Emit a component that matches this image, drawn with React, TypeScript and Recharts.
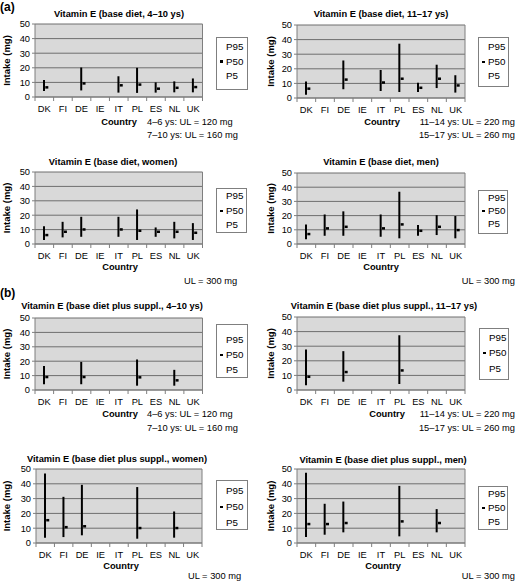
import { Bar, CartesianGrid, ComposedChart, Scatter, XAxis, YAxis } from "recharts"

const FONT = '"Liberation Sans", Arial, Helvetica, sans-serif'

const countries = ["DK", "FI", "DE", "IE", "IT", "PL", "ES", "NL", "UK"]
const yTicks = [0, 10, 20, 30, 40, 50]

// (a) base diet
const base410P5 = [4.1, null, 4.5, null, 3.0, 2.8, 3.0, 3.2, 3.2]
const base410P50 = [6.6, null, 9.3, null, 8.0, 8.5, 5.7, 6.3, 6.8]
const base410P95 = [11.6, null, 20.2, null, 14.2, 20.0, 10.0, 10.7, 12.7]

const base1117P5 = [2.3, null, 6.0, null, 4.8, 4.1, 4.1, 6.8, 3.7]
const base1117P50 = [6.4, null, 12.6, null, 10.6, 13.2, 7.0, 13.2, 8.6]
const base1117P95 = [11.3, null, 25.7, null, 19.2, 37.2, 10.4, 22.8, 15.6]

const baseWomenP5 = [2.8, 4.6, 5.0, null, 5.0, 2.8, 5.0, 3.9, 2.8]
const baseWomenP50 = [6.2, 8.5, 10.1, null, 10.1, 9.2, 8.5, 8.5, 7.8]
const baseWomenP95 = [12.4, 15.4, 18.9, null, 18.9, 24.0, 11.5, 15.4, 14.5]

const baseMenP5 = [3.3, 5.8, 5.8, null, 5.1, 4.0, 5.8, 6.3, 4.0]
const baseMenP50 = [7.0, 11.0, 12.1, null, 11.0, 13.8, 9.3, 12.1, 9.8]
const baseMenP95 = [13.8, 20.8, 23.0, null, 20.8, 36.8, 13.3, 20.3, 19.7]

// (b) base diet plus supplements
const suppl410P5 = [4.0, null, 4.0, null, null, 3.0, null, 3.0, null]
const suppl410P50 = [9.0, null, 9.0, null, null, 8.8, null, 6.7, null]
const suppl410P95 = [16.7, null, 19.5, null, null, 21.2, null, 14.0, null]

const suppl1117P5 = [3.2, null, 5.7, null, null, 4.1, null, null, null]
const suppl1117P50 = [9.1, null, 12.3, null, null, 13.4, null, null, null]
const suppl1117P95 = [27.7, null, 26.6, null, null, 37.5, null, null, null]

const supplWomenP5 = [3.6, 4.0, 5.2, null, null, 2.9, null, 3.6, null]
const supplWomenP50 = [15.4, 10.7, 11.3, null, null, 10.1, null, 10.1, null]
const supplWomenP95 = [47.0, 31.2, 39.3, null, null, 37.8, null, 21.3, null]

const supplMenP5 = [4.0, 5.6, 7.2, null, null, 4.5, null, 7.2, null]
const supplMenP50 = [12.8, 12.8, 13.5, null, null, 14.6, null, 13.5, null]
const supplMenP95 = [47.5, 26.5, 28.0, null, null, 38.6, null, 22.9, null]

const titles = [
  "Vitamin E (base diet, 4–10 ys)",
  "Vitamin E (base diet, 11–17 ys)",
  "Vitamin E (base diet, women)",
  "Vitamin E (base diet, men)",
  "Vitamin E (base diet plus suppl., 4–10 ys)",
  "Vitamin E (base diet plus suppl., 11–17 ys)",
  "Vitamin E (base diet plus suppl., women)",
  "Vitamin E (base diet plus suppl., men)",
]

const ulKids = ["4–6 ys: UL = 120 mg", "7–10 ys: UL = 160 mg"]
const ulTeens = ["11–14 ys: UL = 220 mg", "15–17 ys: UL = 260 mg"]
const ulAdults = ["UL = 300 mg"]

const legendItems = ["P95", "P50", "P5"]

type Num = number | null

interface PanelCfg {
  title: string
  p5: Num[]
  p50: Num[]
  p95: Num[]
  ul: string[]
  plot: { x: number; y: number; w: number; h: number }
  titleX: number
  titleY: number
  countryX: number
  countryY: number
  ylabX: number
  legend: { x: number; y: number; w: number; h: number; rows: number[] }
  ulX: number
  ulY: number[]
  ulAnchor: "start" | "end"
}

const panels: PanelCfg[] = [
  {
    title: titles[0], p5: base410P5, p50: base410P50, p95: base410P95, ul: ulKids,
    plot: { x: 34.5, y: 24, w: 167.5, h: 73 }, titleX: 119, titleY: 15, countryX: 119, countryY: 123, ylabX: 6,
    legend: { x: 216, y: 37, w: 32, h: 53, rows: [47, 61.5, 76] }, ulX: 147, ulY: [123, 136], ulAnchor: "start",
  },
  {
    title: titles[1], p5: base1117P5, p50: base1117P50, p95: base1117P95, ul: ulTeens,
    plot: { x: 297, y: 25, w: 168, h: 73 }, titleX: 381, titleY: 15, countryX: 382, countryY: 123, ylabX: 270,
    legend: { x: 478, y: 37, w: 31, h: 50, rows: [47, 62, 76] }, ulX: 515, ulY: [123, 136], ulAnchor: "end",
  },
  {
    title: titles[2], p5: baseWomenP5, p50: baseWomenP50, p95: baseWomenP95, ul: ulAdults,
    plot: { x: 34.5, y: 172, w: 167.5, h: 72 }, titleX: 113, titleY: 163, countryX: 120, countryY: 268, ylabX: 6,
    legend: { x: 216, y: 188, w: 31, h: 45, rows: [196, 211, 225] }, ulX: 184, ulY: [282], ulAnchor: "start",
  },
  {
    title: titles[3], p5: baseMenP5, p50: baseMenP50, p95: baseMenP95, ul: ulAdults,
    plot: { x: 297, y: 173, w: 168, h: 71 }, titleX: 381, titleY: 163, countryX: 381, countryY: 268, ylabX: 270,
    legend: { x: 478, y: 190, w: 30, h: 44, rows: [198, 211, 224] }, ulX: 515, ulY: [282], ulAnchor: "end",
  },
  {
    title: titles[4], p5: suppl410P5, p50: suppl410P50, p95: suppl410P95, ul: ulKids,
    plot: { x: 34.5, y: 318, w: 167.5, h: 72 }, titleX: 112, titleY: 307, countryX: 120, countryY: 415, ylabX: 6,
    legend: { x: 216, y: 324, w: 32, h: 54, rows: [340, 355, 370] }, ulX: 147, ulY: [415, 429], ulAnchor: "start",
  },
  {
    title: titles[5], p5: suppl1117P5, p50: suppl1117P50, p95: suppl1117P95, ul: ulTeens,
    plot: { x: 297, y: 317, w: 168, h: 73 }, titleX: 384, titleY: 307, countryX: 387, countryY: 415, ylabX: 270,
    legend: { x: 479, y: 328, w: 30, h: 52, rows: [338, 353, 369] }, ulX: 515, ulY: [415, 429], ulAnchor: "end",
  },
  {
    title: titles[6], p5: supplWomenP5, p50: supplWomenP50, p95: supplWomenP95, ul: ulAdults,
    plot: { x: 36, y: 469, w: 166, h: 74 }, titleX: 117, titleY: 460, countryX: 121, countryY: 567, ylabX: 6,
    legend: { x: 216, y: 480, w: 32, h: 50, rows: [491, 507, 523] }, ulX: 188, ulY: [577], ulAnchor: "start",
  },
  {
    title: titles[7], p5: supplMenP5, p50: supplMenP50, p95: supplMenP95, ul: ulAdults,
    plot: { x: 297, y: 469, w: 168, h: 74 }, titleX: 383, titleY: 461, countryX: 383, countryY: 567, ylabX: 270,
    legend: { x: 478, y: 486, w: 30, h: 44, rows: [494, 508, 522] }, ulX: 515, ulY: [577], ulAnchor: "end",
  },
]

const AXIS = "#7f7f7f"

function CountryTick(props: any) {
  const { x, y, payload, band } = props
  const i = countries.indexOf(payload.value)
  const left = x - band / 2
  return (
    <g>
      <line x1={left} x2={left} y1={y} y2={y + 4} stroke={AXIS} />
      {i === countries.length - 1 && <line x1={x + band / 2} x2={x + band / 2} y1={y} y2={y + 4} stroke={AXIS} />}
      <text x={x} y={y + 12} textAnchor="middle" dominantBaseline="central" fontSize={9.3} fill="#000" fontFamily={FONT}>
        {payload.value}
      </text>
    </g>
  )
}

function MedianMark(props: any) {
  const { cx, cy, payload } = props
  if (payload == null || payload.p50 == null || !Number.isFinite(cx) || !Number.isFinite(cy)) return null
  return <rect x={cx + 1} y={cy - 1.25} width={3} height={2.5} fill="#000" />
}

function Txt({ x, y, children, bold, size = 9.3, anchor = "middle" }: any) {
  const tx = anchor === "middle" ? "-50%" : anchor === "end" ? "-100%" : "0"
  return (
    <div
      style={{
        position: "absolute",
        left: x,
        top: y,
        transform: `translate(${tx}, -50%)`,
        whiteSpace: "nowrap",
        fontSize: size,
        fontWeight: bold ? "bold" : "normal",
        lineHeight: 1,
      }}
    >
      {children}
    </div>
  )
}

function Panel({ cfg }: { cfg: PanelCfg }) {
  const data = countries.map((c, i) => ({
    name: c,
    range: cfg.p95[i] == null ? null : [cfg.p5[i], cfg.p95[i]],
    p50: cfg.p50[i],
  }))
  const axisW = 35
  const top = 6
  const xAxisH = 22
  const band = cfg.plot.w / countries.length
  const left = cfg.plot.x - axisW
  const chartTop = cfg.plot.y - top
  const width = axisW + cfg.plot.w + 3
  const height = top + cfg.plot.h + xAxisH
  const lg = cfg.legend
  const labX = cfg.ylabX - left
  const labY = top + cfg.plot.h / 2

  return (
    <>
      <Txt x={cfg.titleX} y={cfg.titleY} bold>{cfg.title}</Txt>
      <div style={{ position: "absolute", left, top: chartTop }}>
        <ComposedChart width={width} height={height} data={data} margin={{ top, right: 2, bottom: 0, left: 0 }}>
          <CartesianGrid vertical={false} fill="#d9d9d9" fillOpacity={1} stroke="#6e6e6e" />
          <XAxis
            dataKey="name"
            height={xAxisH}
            interval={0}
            tickLine={false}
            tickSize={0}
            tickMargin={0}
            axisLine={{ stroke: AXIS }}
            tick={<CountryTick band={band} />}
          />
          <YAxis
            width={axisW}
            domain={[0, 50]}
            ticks={yTicks}
            interval={0}
            tickSize={3}
            tickMargin={2}
            tickLine={{ stroke: AXIS }}
            axisLine={{ stroke: AXIS }}
            tick={{ fontSize: 9.3, fill: "#000", fontFamily: FONT }}
            label={{
              content: () => (
                <text
                  transform={`translate(${labX}, ${labY}) rotate(-90)`}
                  textAnchor="middle"
                  dominantBaseline="central"
                  fontSize={9.5}
                  fontWeight="bold"
                  fontFamily={FONT}
                  fill="#000"
                >
                  Intake (mg)
                </text>
              ),
            }}
          />
          <YAxis
            yAxisId="r"
            orientation="right"
            width={1}
            domain={[0, 50]}
            tick={false}
            tickLine={false}
            axisLine={{ stroke: AXIS }}
          />
          <Bar dataKey="range" barSize={2} fill="#000" isAnimationActive={false} />
          <Scatter dataKey="p50" shape={<MedianMark />} isAnimationActive={false} />
        </ComposedChart>
      </div>
      <Txt x={cfg.countryX} y={cfg.countryY} bold>Country</Txt>
      {cfg.ul.map((t, i) => (
        <Txt key={t} x={cfg.ulX} y={cfg.ulY[i]} anchor={cfg.ulAnchor} size={9.3}>{t}</Txt>
      ))}
      <div
        style={{
          position: "absolute",
          left: lg.x,
          top: lg.y,
          width: lg.w,
          height: lg.h,
          boxSizing: "border-box",
          border: `1px solid ${AXIS}`,
          background: "#fff",
        }}
      />
      {legendItems.map((t, i) => (
        <Txt key={t} x={lg.x + 10} y={lg.rows[i]} anchor="start" size={9.8}>{t}</Txt>
      ))}
      <div
        style={{
          position: "absolute",
          left: lg.x + 4,
          top: lg.rows[1] - 1.25,
          width: 3,
          height: 2.5,
          background: "#000",
        }}
      />
    </>
  )
}

export default function App() {
  return (
    <div
      style={{
        position: "absolute",
        left: 0,
        top: 0,
        width: 516,
        height: 581,
        background: "#fff",
        fontFamily: FONT,
        color: "#000",
        overflow: "hidden",
      }}
    >
      <Txt x={0} y={7} anchor="start" bold size={12}>(a)</Txt>
      <Txt x={0} y={293} anchor="start" bold size={12}>(b)</Txt>
      {panels.map((p) => (
        <Panel key={p.title} cfg={p} />
      ))}
    </div>
  )
}
